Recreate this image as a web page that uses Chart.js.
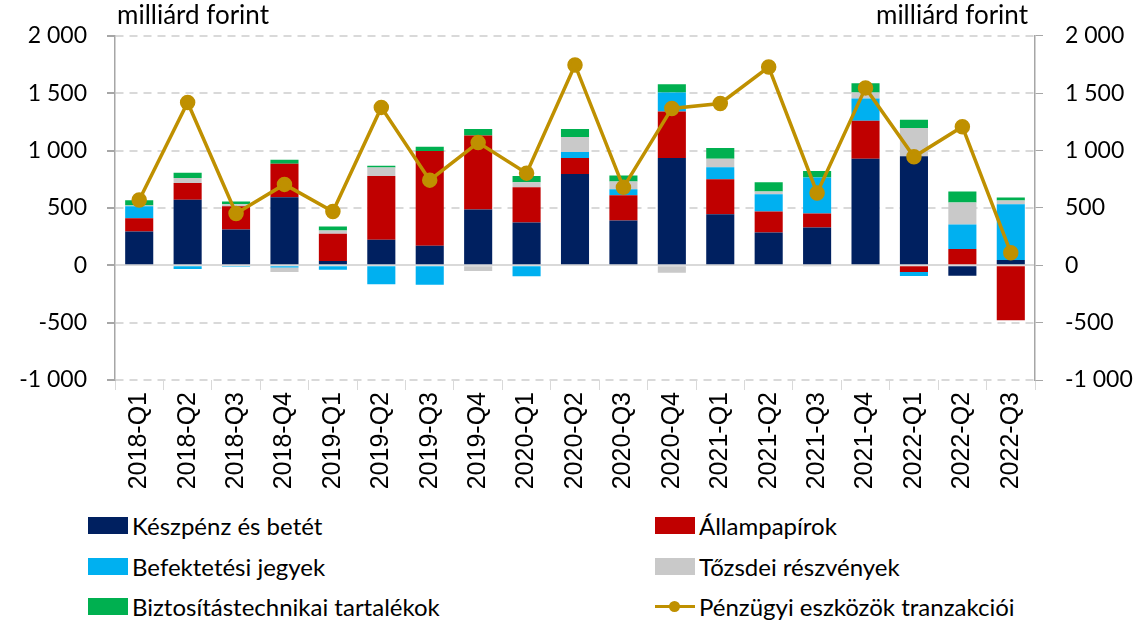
<!DOCTYPE html>
<html>
<head>
<meta charset="utf-8">
<script src="https://cdn.jsdelivr.net/npm/chart.js@4"></script>
<style>
  body { margin: 0; background: #fff; font-family: Lato, "Open Sans", sans-serif; }
  #wrap { position: relative; width: 1134px; height: 622px; }
  #chart { position: absolute; left: 0; top: 0; }
  .legend { position: absolute; font-size: 24px; color: #000; display: flex; align-items: center; }
  .sw { width: 40px; height: 17px; margin-right: 4px; }
  .ln { width: 40px; height: 17px; margin-right: 4px; position: relative; }
  .ln:before { content: ""; position: absolute; left: 0; right: 0; top: 7px; height: 3px; background: #BF9000; }
  .ln:after { content: ""; position: absolute; left: 14px; top: 3px; width: 11px; height: 11px; border-radius: 50%; background: #BF9000; }
</style>
</head>
<body>
<div id="wrap">
  <canvas id="chart" width="1134" height="510"></canvas>
  <div class="legend" style="left:88px;top:511px"><div class="sw" style="background:#002060"></div>Készpénz és betét</div>
  <div class="legend" style="left:655px;top:511px"><div class="sw" style="background:#C00000"></div>Állampapírok</div>
  <div class="legend" style="left:88px;top:552px"><div class="sw" style="background:#00B0F0"></div>Befektetési jegyek</div>
  <div class="legend" style="left:655px;top:552px"><div class="sw" style="background:#C9C9C9"></div>Tőzsdei részvények</div>
  <div class="legend" style="left:88px;top:592px"><div class="sw" style="background:#00B050"></div>Biztosítástechnikai tartalékok</div>
  <div class="legend" style="left:655px;top:592px"><div class="ln"></div>Pénzügyi eszközök tranzakciói</div>
</div>
<script>
const quarters = ["2018-Q1","2018-Q2","2018-Q3","2018-Q4","2019-Q1","2019-Q2","2019-Q3","2019-Q4",
  "2020-Q1","2020-Q2","2020-Q3","2020-Q4","2021-Q1","2021-Q2","2021-Q3","2021-Q4","2022-Q1","2022-Q2","2022-Q3"];

const keszpenz   = [295, 572, 312, 592,  38, 223, 170, 486, 373, 795, 390, 936, 445, 286, 329, 928, 951, -92,   46];
const allampapir = [115, 145, 202, 292, 237, 554, 827, 644, 306, 141, 220, 405, 304, 182, 122, 332, -58, 142, -480];
const befektetes = [104, -32, -14, -20, -40,-165,-170,   0, -95,  52,  52, 165, 106, 150, 315, 194, -35, 213,  486];
const tozsde     = [  8,  43,  18, -38,  28,  76,   0, -49,  44, 130,  69, -66,  73,  24, -10,  52, 245, 191,   32];
const biztositas = [ 44,  46,  23,  35,  35,  14,  35,  58,  54,  70,  52,  72,  95,  81,  55,  81,  73,  98,   26];
const tranzakcio = [569,1419, 451, 705, 468,1376, 742,1069, 803,1746, 679,1367,1410,1728, 630,1546, 945,1208,  110];

const FONT = "Lato, 'Open Sans', sans-serif";

function fmt(v) {
  const s = Math.abs(v).toString().replace(/\B(?=(\d{3})+(?!\d))/g, " ");
  return (v < 0 ? "-" : "") + s;
}

const unitTitles = {
  id: "unitTitles",
  afterDraw(chart) {
    const ctx = chart.ctx;
    ctx.save();
    ctx.font = "26px " + FONT;
    ctx.fillStyle = "#000";
    ctx.textBaseline = "middle";
    ctx.textAlign = "left";
    ctx.fillText("milliárd forint", 117, 16);
    ctx.textAlign = "right";
    ctx.fillText("milliárd forint", 1028, 16);
    ctx.restore();
  }
};

function bar(label, data, color) {
  return { type: "bar", label, data, backgroundColor: color, stack: "s", yAxisID: "y",
           barPercentage: 0.58, categoryPercentage: 1, order: 2 };
}

new Chart(document.getElementById("chart"), {
  data: {
    labels: quarters,
    datasets: [
      { type: "line", label: "Pénzügyi eszközök tranzakciói", data: tranzakcio, yAxisID: "y",
        borderColor: "#BF9000", backgroundColor: "#BF9000", borderWidth: 3.5,
        pointRadius: 6, pointHoverRadius: 6, tension: 0, order: 1 },
      bar("Készpénz és betét", keszpenz, "#002060"),
      bar("Állampapírok", allampapir, "#C00000"),
      bar("Befektetési jegyek", befektetes, "#00B0F0"),
      bar("Tőzsdei részvények", tozsde, "#C9C9C9"),
      bar("Biztosítástechnikai tartalékok", biztositas, "#00B050"),
    ],
  },
  options: {
    responsive: false,
    animation: false,
    layout: { padding: { top: 35, left: 0, right: 0, bottom: 0 } },
    plugins: { legend: { display: false }, tooltip: { enabled: false } },
    scales: {
      x: {
        stacked: true,
        grid: { display: true, drawOnChartArea: false, offset: true, tickLength: 10, color: "#D9D9D9" },
        border: { display: false },
        ticks: { color: "#000", font: { size: 25, family: "'Liberation Sans', Arial, sans-serif" },
                 minRotation: 90, maxRotation: 90, padding: 2 },
        afterFit(s) { s.height = 130; },
      },
      y: {
        stacked: true, position: "left", min: -1000, max: 2000,
        ticks: { stepSize: 500, color: "#000", font: { size: 23, family: FONT }, callback: fmt, padding: 20 },
        grid: { color: "#D9D9D9", lineWidth: 2, tickLength: 8, drawTicks: true, tickColor: "#A6A6A6" },
        border: { display: true, color: "#A6A6A6", width: 1.5, dash: (c) => c.tick && c.tick.value === 0 ? [] : [8, 6] },
        afterFit(s) { s.width = 115; },
      },
      y1: {
        position: "right", min: -1000, max: 2000,
        ticks: { stepSize: 500, color: "#000", font: { size: 23, family: FONT }, callback: fmt, padding: 22 },
        grid: { drawOnChartArea: false, tickLength: 8, tickColor: "#A6A6A6" },
        border: { display: true, color: "#A6A6A6", width: 1.5 },
        afterFit(s) { s.width = 99; },
      },
    },
  },
  plugins: [unitTitles],
});
</script>
</body>
</html>
